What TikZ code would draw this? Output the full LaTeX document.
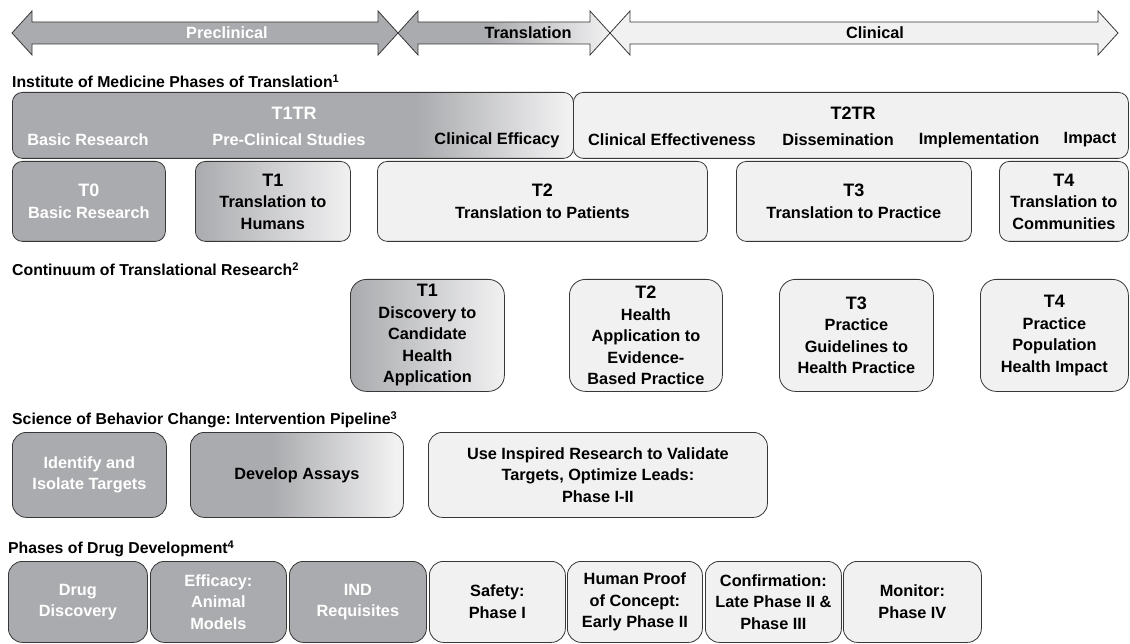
\documentclass[tikz,border=0pt]{standalone}
\usepackage{fontspec}
\setmainfont{Liberation Sans}
\frenchspacing
\definecolor{dk}{RGB}{170,171,174}
\definecolor{lt}{RGB}{241,241,242}
\definecolor{ln}{RGB}{55,55,55}
\pgfdeclarehorizontalshading{fadeTR}{100bp}{color(0bp)=(dk); color(25bp)=(dk); color(61bp)=(dk); color(74.5bp)=(lt); color(100bp)=(lt)}
\pgfdeclarehorizontalshading{fadeTrans}{100bp}{color(0bp)=(dk); color(25bp)=(dk); color(46bp)=(dk); color(75bp)=(lt); color(100bp)=(lt)}
\pgfdeclarehorizontalshading{fadeDev}{100bp}{color(0bp)=(dk); color(25bp)=(dk); color(44bp)=(dk); color(73bp)=(lt); color(100bp)=(lt)}
\pgfdeclarehorizontalshading{fadeLin}{100bp}{color(0bp)=(dk); color(25bp)=(dk); color(75bp)=(lt); color(100bp)=(lt)}
\newcommand{\tsz}{\fontsize{18}{19}\selectfont}
\begin{document}
\begin{tikzpicture}[x=1pt,y=-1pt,
  base/.style={draw=ln, line width=0.8pt, rounded corners=10pt, inner sep=0pt, align=center,
    anchor=north west, font=\bfseries\fontsize{16.3}{21.5}\selectfont\frenchspacing},
  dkbox/.style={base, fill=dk, text=white},
  ltbox/.style={base, fill=lt, text=black},
  grbox/.style={base, shading=fadeLin},
  lbl/.style={inner sep=0pt, font=\bfseries\fontsize{16.3}{18}\selectfont},
  ttl/.style={inner sep=0pt, anchor=west, font=\bfseries\fontsize{15.8}{17}\selectfont\frenchspacing},
  arr/.style={draw=ln, line width=0.8pt}]
\useasboundingbox (0,0) rectangle (1130,644);

% top arrows
\path[arr, fill=dk] (12,33) -- (32,11) -- (32,22) -- (378,22) -- (378,11) -- (398,33)
  -- (378,55) -- (378,44) -- (32,44) -- (32,55) -- cycle;
\path[arr, shading=fadeTrans] (398,33) -- (418,11) -- (418,22) -- (590,22) -- (590,11) -- (610,33)
  -- (590,55) -- (590,44) -- (418,44) -- (418,55) -- cycle;
\path[arr, fill=lt] (610,33) -- (630,11) -- (630,22) -- (1098,22) -- (1098,11) -- (1118,33)
  -- (1098,55) -- (1098,44) -- (630,44) -- (630,55) -- cycle;
\node[lbl, text=white] (apre) at (227,33) {Preclinical};
\node[lbl] (atr) at (528,33) {Translation};
\node[lbl] (acl) at (875,33) {Clinical};

% Section 1
\node[ttl] (s1) at (12,81) {Institute of Medicine Phases of Translation\textsuperscript{1}};
\node[base, shading=fadeTR, minimum width=561pt, minimum height=66pt] (t1tr) at (12,92) {};
\node[base, fill=lt, minimum width=555pt, minimum height=66pt] (t2tr) at (573,92) {};
\node[lbl, text=white, font=\bfseries\tsz] (l1tr) at (294,113) {T1TR};
\node[lbl, text=white] (lbr) at (88,140) {Basic Research};
\node[lbl, text=white] (lpc) at (289,140) {Pre-Clinical Studies};
\node[lbl] (lce) at (497,140) {Clinical Efficacy};
\node[lbl, font=\bfseries\tsz] (l2tr) at (853,113) {T2TR};
\node[lbl] (lcf) at (672,140) {Clinical Effectiveness};
\node[lbl] (lds) at (838,140) {Dissemination};
\node[lbl] (lim) at (979,140) {Implementation};
\node[lbl] (lip) at (1090,140) {Impact};

\node[dkbox, minimum width=153pt, minimum height=80pt] (t0) at (12,161) {{\tsz T0}\\Basic Research};
\node[grbox, minimum width=155pt, minimum height=80pt] (t1) at (195,161) {{\tsz T1}\\Translation to\\Humans};
\node[ltbox, minimum width=330pt, minimum height=80pt] (t2) at (377,161) {{\tsz T2}\\Translation to Patients};
\node[ltbox, minimum width=235pt, minimum height=80pt] (t3) at (736,161) {{\tsz T3}\\Translation to Practice};
\node[ltbox, minimum width=129pt, minimum height=80pt] (t4) at (999,161) {{\tsz T4}\\Translation to\\Communities};

% Section 2
\node[ttl] (s2) at (12,269) {Continuum of Translational Research\textsuperscript{2}};
\node[grbox, rounded corners=16pt, minimum width=154pt, minimum height=112pt] (c1) at (350,279)
  {{\tsz T1}\\Discovery to\\Candidate\\Health\\Application};
\node[ltbox, rounded corners=16pt, minimum width=153pt, minimum height=112pt] (c2) at (569,279)
  {{\tsz T2}\\Health\\Application to\\Evidence-\\Based Practice};
\node[ltbox, rounded corners=16pt, minimum width=154pt, minimum height=112pt] (c3) at (779,279)
  {{\tsz T3}\\Practice\\Guidelines to\\Health Practice};
\node[ltbox, rounded corners=16pt, minimum width=148pt, minimum height=112pt] (c4) at (980,279)
  {{\tsz T4}\\Practice\\Population\\Health Impact};

% Section 3
\node[ttl] (s3) at (12,420) {Science of Behavior Change: Intervention Pipeline\textsuperscript{3}};
\node[dkbox, rounded corners=14pt, minimum width=154pt, minimum height=85pt] (b1) at (12,432) {Identify and\\Isolate Targets};
\node[base, shading=fadeDev, rounded corners=14pt, minimum width=213pt, minimum height=85pt] (b2) at (190,432) {Develop Assays};
\node[ltbox, rounded corners=14pt, minimum width=339pt, minimum height=85pt] (b3) at (428,432)
  {Use Inspired Research to Validate\\Targets, Optimize Leads:\\Phase I-II};

% Section 4
\node[ttl] (s4) at (8,549) {Phases of Drug Development\textsuperscript{4}};
\node[dkbox, rounded corners=14pt, minimum width=139pt, minimum height=81pt] (d1) at (8,561) {Drug\\Discovery};
\node[dkbox, rounded corners=14pt, minimum width=136pt, minimum height=81pt] (d2) at (150,561) {Efficacy:\\Animal\\Models};
\node[dkbox, rounded corners=14pt, minimum width=137pt, minimum height=81pt] (d3) at (289,561) {IND\\Requisites};
\node[ltbox, rounded corners=14pt, minimum width=136pt, minimum height=81pt] (d4) at (429,561) {Safety:\\Phase I};
\node[ltbox, rounded corners=14pt, minimum width=135pt, minimum height=81pt] (d5) at (567,561) {Human Proof\\of Concept:\\Early Phase II};
\node[ltbox, rounded corners=14pt, minimum width=136pt, minimum height=81pt] (d6) at (705,561) {Confirmation:\\Late Phase II \&\\Phase III};
\node[ltbox, rounded corners=14pt, minimum width=138pt, minimum height=81pt] (d7) at (843,561) {Monitor:\\Phase IV};
\end{tikzpicture}
\end{document}
